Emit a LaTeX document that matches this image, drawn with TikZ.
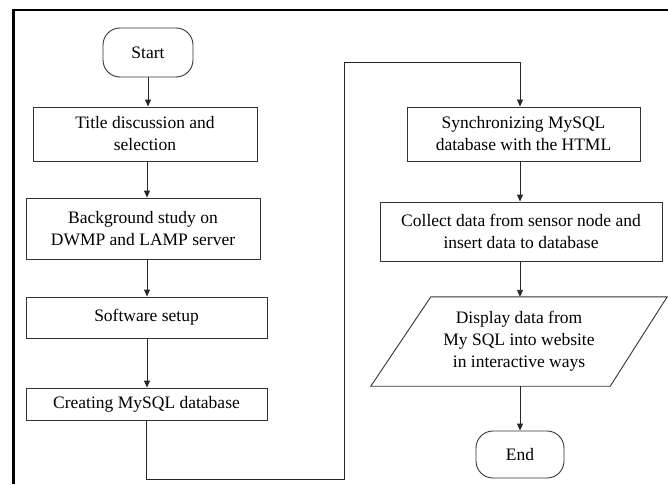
\documentclass[tikz,border=0pt]{standalone}
\usepackage{fontspec}
\setmainfont{Liberation Serif}
\usetikzlibrary{arrows.meta}
\begin{document}
\begin{tikzpicture}[x=1pt,y=-1pt,
  every node/.style={font=\fontsize{17.5}{22}\selectfont, align=center, inner sep=0pt},
  procbox/.style={draw=black!80, line width=0.9pt, rectangle},
  term/.style={draw=black!80, line width=0.9pt, rectangle, rounded corners=17pt},
  conn/.style={draw=black!85, line width=0.9pt, -{Triangle[length=7pt,width=6pt]}},
  plain/.style={draw=black!75, line width=1pt}]
\useasboundingbox (0,0) rectangle (668,484);
% frame
\draw[line width=2.4pt, black] (13.5,484) -- (13.5,10) -- (668,10);
% left column
\node[term, minimum width=90pt, minimum height=49pt] (start) at (148,52.5) {Start};
\node[procbox, minimum width=224pt, minimum height=54pt] (b1) at (145,134) {Title discussion and\\selection};
\node[procbox, minimum width=234pt, minimum height=61pt] (b2) at (143,228.5) {Background study on\\DWMP and LAMP server};
\node[procbox, minimum width=241pt, minimum height=41pt] (b3) at (146.5,317.5) {Software setup};
\node[procbox, minimum width=241pt, minimum height=32pt] (b4) at (146.5,404) {Creating MySQL database};
% right column
\node[procbox, minimum width=233pt, minimum height=54pt] (b5) at (523.5,134) {Synchronizing MySQL\\database with the HTML};
\node[procbox, minimum width=282pt, minimum height=59pt] (b6) at (521,231.5) {Collect data from sensor node and\\insert data to database};
\node[minimum width=296pt, minimum height=89pt] (disp) at (519,341.5) {Display data from\\My SQL into website\\in interactive ways};
\draw[draw=black!80, line width=0.9pt] ([xshift=60pt]disp.north west) -- (disp.north east) -- ([xshift=-57pt]disp.south east) -- (disp.south west) -- cycle;
\node[term, minimum width=88pt, minimum height=47pt] (end) at (520,454.5) {End};
% connectors
\coordinate (xl) at (147,0);
\draw[conn] (start.south) -- (start.south |- b1.north);
\draw[conn] (b1.south -| xl) -- (xl |- b2.north);
\draw[conn] (b2.south -| xl) -- (xl |- b3.north);
\draw[conn] (b3.south -| xl) -- (xl |- b4.north);
\coordinate (c1) at (146,479);
\coordinate (c2) at (344,479);
\coordinate (c3) at (344,62);
\coordinate (c4) at (520,62);
\draw[conn] (b4.south -| c1) -- (c1) -- (c2) -- (c3) -- (c4) -- (c4 |- b5.north);
\coordinate (xr) at (520,0);
\draw[conn] (b5.south -| xr) -- (xr |- b6.north);
\draw[conn] (b6.south -| xr) -- (xr |- disp.north);
\draw[conn] (disp.south -| xr) -- (end.north);
\end{tikzpicture}
\end{document}
